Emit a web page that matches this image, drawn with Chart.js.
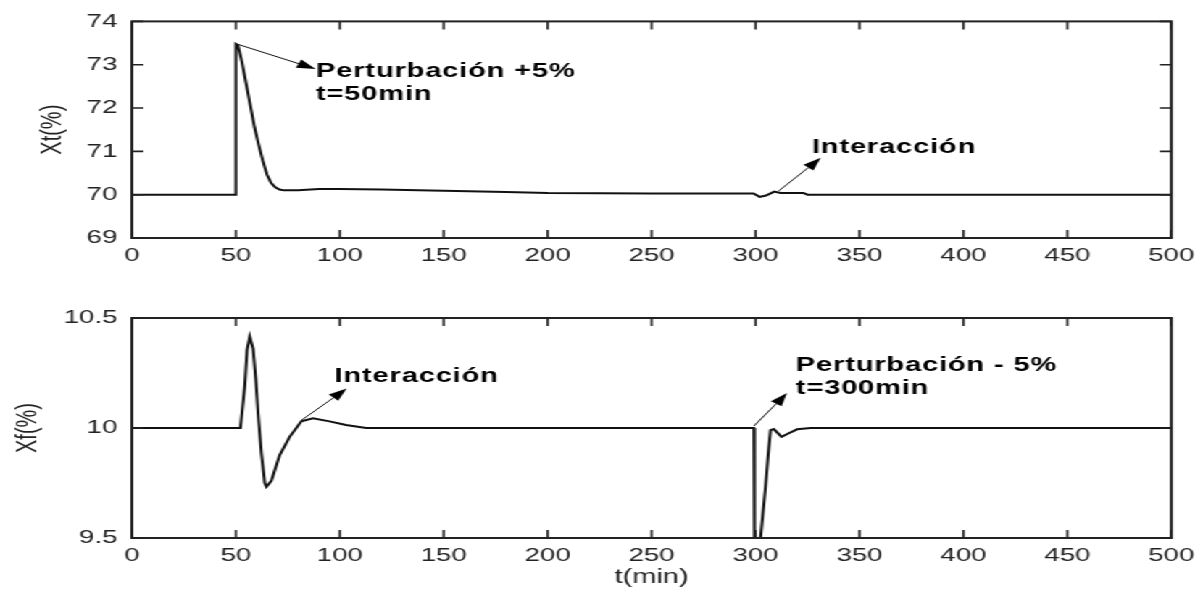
<!DOCTYPE html>
<html>
<head>
<meta charset="utf-8">
<script src="https://cdn.jsdelivr.net/npm/chart.js@4.4.0/dist/chart.umd.min.js"></script>
<style>
  html, body { margin: 0; padding: 0; background: #fff; overflow: hidden; }
  /* the original picture is a stretched MATLAB figure, so draw narrow and stretch */
  #wrap { position: absolute; left: 0; top: 0; width: 830px; height: 592px;
          transform: scaleX(1.4494); transform-origin: 0 0; }
  #topBox { position: absolute; left: 0; top: 0; width: 830px; height: 270px; }
  #botBox { position: absolute; left: 0; top: 270px; width: 830px; height: 322px; }
</style>
</head>
<body>
<div id="wrap">
  <div id="topBox"><canvas id="xtChart"></canvas></div>
  <div id="botBox"><canvas id="xfChart"></canvas></div>
</div>
<script>
/* ===============================
   DATA
================================ */
const xtTime = [0, 50, 50, 51, 53, 55, 57, 59, 61, 63, 65, 67, 69, 71, 73, 80, 90, 100, 120, 150, 180, 200, 250, 299, 302, 305, 309, 312, 316, 323, 325, 500];
const xtValue = [70, 70, 73.48, 73.45, 73.05, 72.55, 72.05, 71.55, 71.15, 70.78, 70.46, 70.27, 70.17, 70.12, 70.1, 70.1, 70.13, 70.13, 70.12, 70.09, 70.06, 70.04, 70.03, 70.03, 69.95, 69.98, 70.07, 70.04, 70.04, 70.04, 70.0, 70.0];

const xfTime = [0, 52.2, 54.3, 55.4, 56.7, 58.3, 59.6, 60.7, 62.3, 63.9, 64.7, 67.1, 71.1, 75.9, 81.5, 87.1, 95.1, 103, 112.7, 299.2, 299.5, 301.8, 302.4, 304.8, 306, 307.2, 308.8, 312.5, 316, 320, 326.5, 500];
const xfValue = [10, 10, 10.19, 10.355, 10.415, 10.36, 10.22, 10.067, 9.885, 9.75, 9.733, 9.76, 9.877, 9.96, 10.03, 10.044, 10.03, 10.014, 10, 10, 9.4, 9.4, 9.5, 9.733, 9.87, 9.99, 9.995, 9.96, 9.976, 9.994, 10, 10];

const timeTicks = [0, 50, 100, 150, 200, 250, 300, 350, 400, 450, 500];
const xtTicks = [69, 70, 71, 72, 73, 74];
const xfTicks = [9.5, 10, 10.5];

/* ===============================
   ANNOTATIONS (data coordinates)
================================ */
const xtNotes = [
  { from: [50.4, 73.48], to: [88.4, 72.9], at: [88.6, 72.72], lines: ["Perturbación +5%", "t=50min"] },
  { from: [311.2, 70.09], to: [331.4, 70.85], at: [327.1, 70.96], lines: ["Interacción"] }
];
const xfNotes = [
  { from: [81.7, 10.036], to: [103.3, 10.18], at: [97.5, 10.209], lines: ["Interacción"] },
  { from: [299.2, 10.009], to: [315.1, 10.159], at: [319.4, 10.259], lines: ["Perturbación - 5%", "t=300min"] }
];

const TICK_FONT = { family: "'Liberation Sans', Arial, sans-serif", size: 19 };
const TITLE_FONT = { family: "'Liberation Sans', Arial, sans-serif", size: 20 };

// box + inward ticks + arrows with bold labels
const framePlugin = {
  id: "frame",
  afterDatasetsDraw(chart, args, opts) {
    const { ctx, chartArea: a, scales: { x, y } } = chart;
    ctx.save();
    ctx.strokeStyle = "#222";
    ctx.lineWidth = 2;
    ctx.strokeRect(a.left, a.top, a.right - a.left, a.bottom - a.top);

    ctx.lineWidth = 1.6;
    ctx.beginPath();
    x.ticks.forEach(t => {
      const px = x.getPixelForValue(t.value);
      ctx.moveTo(px, a.bottom); ctx.lineTo(px, a.bottom - 8);
      ctx.moveTo(px, a.top); ctx.lineTo(px, a.top + 8);
    });
    y.ticks.forEach(t => {
      const py = y.getPixelForValue(t.value);
      ctx.moveTo(a.left, py); ctx.lineTo(a.left + 8, py);
      ctx.moveTo(a.right, py); ctx.lineTo(a.right - 8, py);
    });
    ctx.stroke();

    ctx.fillStyle = "#000";
    ctx.strokeStyle = "#111";
    (opts.notes || []).forEach(n => {
      const x0 = x.getPixelForValue(n.from[0]), y0 = y.getPixelForValue(n.from[1]);
      const x1 = x.getPixelForValue(n.to[0]), y1 = y.getPixelForValue(n.to[1]);
      const ang = Math.atan2(y1 - y0, x1 - x0);
      const len = 13, half = 4.5;
      ctx.lineWidth = 1;
      ctx.beginPath();
      ctx.moveTo(x0, y0);
      ctx.lineTo(x1 - Math.cos(ang) * len, y1 - Math.sin(ang) * len);
      ctx.stroke();
      ctx.beginPath();
      ctx.moveTo(x1, y1);
      ctx.lineTo(x1 - Math.cos(ang) * len - Math.sin(ang) * half, y1 - Math.sin(ang) * len + Math.cos(ang) * half);
      ctx.lineTo(x1 - Math.cos(ang) * len + Math.sin(ang) * half, y1 - Math.sin(ang) * len - Math.cos(ang) * half);
      ctx.closePath();
      ctx.fill();

      ctx.font = "bold 20px 'Liberation Sans', Arial, sans-serif";
      ctx.letterSpacing = "0.6px";
      ctx.textBaseline = "alphabetic";
      const tx = x.getPixelForValue(n.at[0]);
      const ty = y.getPixelForValue(n.at[1]);
      n.lines.forEach((line, i) => ctx.fillText(line, tx, ty + i * 23));
    });
    ctx.restore();
  }
};

function makeChart(id, time, values, yMin, yMax, yTicks, yTitle, titlePad, notes, showXTitle, padTop, xHeight) {
  return new Chart(document.getElementById(id), {
    type: "line",
    data: {
      datasets: [{
        data: time.map((t, i) => ({ x: t, y: values[i] })),
        borderColor: "#111",
        borderWidth: 2,
        pointRadius: 0,
        tension: 0,
        fill: false
      }]
    },
    options: {
      responsive: true,
      maintainAspectRatio: false,
      animation: false,
      layout: { padding: { left: 0, right: 21, top: padTop, bottom: 0 } },
      plugins: {
        legend: { display: false },
        tooltip: { enabled: false },
        frame: { notes: notes }
      },
      scales: {
        x: {
          type: "linear",
          min: 0, max: 500,
          afterBuildTicks: s => { s.ticks = timeTicks.map(v => ({ value: v })); },
          ticks: { font: TICK_FONT, color: "#222", padding: 6, maxRotation: 0, callback: v => String(v) },
          grid: { display: false, drawTicks: false, tickLength: 0 },
          border: { display: false },
          title: { display: showXTitle, text: "t(min)", font: TITLE_FONT, color: "#222", padding: { top: 0, bottom: 3 } },
          afterFit: s => { s.height = xHeight; }
        },
        y: {
          min: yMin, max: yMax,
          afterBuildTicks: s => { s.ticks = yTicks.map(v => ({ value: v })); },
          ticks: { font: TICK_FONT, color: "#222", padding: 10, callback: v => String(v) },
          grid: { display: false, drawTicks: false, tickLength: 0 },
          border: { display: false },
          title: { display: true, text: yTitle, font: TITLE_FONT, color: "#222", padding: { top: titlePad, bottom: 0 } },
          afterFit: s => { s.width = 91; }
        }
      }
    },
    plugins: [framePlugin]
  });
}

makeChart("xtChart", xtTime, xtValue, 69, 74, xtTicks, "Xt(%)", 24, xtNotes, false, 19, 32);
makeChart("xfChart", xfTime, xfValue, 9.5, 10.5, xfTicks, "Xf(%)", 7, xfNotes, true, 48, 54);
</script>
</body>
</html>
